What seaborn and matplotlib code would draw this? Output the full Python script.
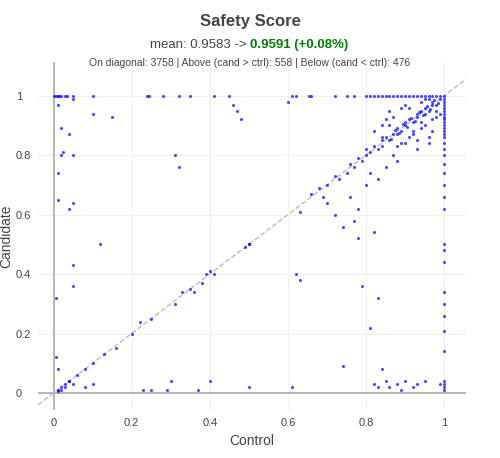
import numpy as np
import matplotlib
matplotlib.use("Agg")
from matplotlib import pyplot as plt
import seaborn as sns

# points (control, candidate)
top_row_x = [0, 0.005, 0.01, 0.015, 0.02, 0.03, 0.035, 0.05, 0.1, 0.24, 0.245, 0.28, 0.32, 0.35, 0.41, 0.45,
             0.61, 0.62, 0.655, 0.66, 0.72, 0.75, 0.77, 0.8, 0.81, 0.82, 0.83, 0.84, 0.85, 0.86, 0.87,
             0.88, 0.89, 0.9, 0.91, 0.92, 0.93, 0.94, 0.95, 0.96, 0.97, 0.98, 0.99, 1.0]
left_col_y = [0.99, 0.97, 0.93, 0.89, 0.87, 0.81, 0.80, 0.80, 0.74, 0.65, 0.64, 0.62, 0.43, 0.36, 0.32, 0.12,
              0.08, 0.04, 0.03, 0.02, 0.01, 0.005]
left_col_x = [0.05, 0.01, 0.15, 0.02, 0.04, 0.025, 0.05, 0.02, 0.01, 0.01, 0.05, 0.04, 0.05, 0.05, 0.005, 0.005,
              0.01, 0.04, 0.05, 0.03, 0.02, 0.01]
right_col_y = [0.99, 0.98, 0.97, 0.96, 0.95, 0.94, 0.93, 0.92, 0.91, 0.9, 0.89, 0.88, 0.87, 0.86, 0.84, 0.82,
               0.8, 0.77, 0.74, 0.7, 0.66, 0.62, 0.5, 0.48, 0.44, 0.34, 0.3, 0.26, 0.21, 0.14, 0.04, 0.03,
               0.02, 0.01]
bottom_row_x = [0.08, 0.1, 0.23, 0.25, 0.29, 0.3, 0.37, 0.4, 0.5, 0.61, 0.74, 0.82, 0.83, 0.84, 0.85, 0.86,
                0.88, 0.89, 0.9, 0.92, 0.93, 0.95, 0.99]
bottom_row_y = [0.02, 0.03, 0.01, 0.01, 0.01, 0.04, 0.01, 0.04, 0.02, 0.02, 0.09, 0.03, 0.02, 0.08, 0.04, 0.02,
                0.03, 0.01, 0.04, 0.02, 0.03, 0.04, 0.03]
diag_x = [0.01, 0.02, 0.03, 0.04, 0.06, 0.08, 0.1, 0.13, 0.16, 0.2, 0.22, 0.25, 0.31, 0.33, 0.35, 0.36, 0.38,
          0.39, 0.4, 0.41, 0.49, 0.5, 0.63, 0.66, 0.68, 0.7, 0.72, 0.73, 0.75, 0.76, 0.77, 0.78, 0.79, 0.8,
          0.8, 0.81, 0.82, 0.83, 0.84, 0.84, 0.85, 0.86, 0.87, 0.88, 0.88, 0.89, 0.9, 0.9, 0.91, 0.92, 0.93,
          0.93, 0.94, 0.95, 0.95, 0.96, 0.97, 0.97, 0.98, 0.99, 0.985, 0.975, 0.965, 0.955, 0.945, 0.935,
          0.925, 0.915, 0.905, 0.895, 0.885, 0.875, 0.865]
diag_y = [0.01, 0.02, 0.03, 0.04, 0.06, 0.08, 0.1, 0.13, 0.15, 0.2, 0.24, 0.25, 0.3, 0.34, 0.35, 0.34, 0.37,
          0.4, 0.41, 0.4, 0.49, 0.5, 0.61, 0.67, 0.69, 0.7, 0.73, 0.72, 0.74, 0.77, 0.76, 0.79, 0.78, 0.8,
          0.82, 0.81, 0.83, 0.82, 0.85, 0.83, 0.86, 0.85, 0.87, 0.89, 0.87, 0.88, 0.9, 0.91, 0.92, 0.91, 0.93,
          0.94, 0.95, 0.94, 0.96, 0.95, 0.97, 0.98, 0.97, 0.99, 0.975, 0.985, 0.955, 0.965, 0.935, 0.945,
          0.915, 0.925, 0.895, 0.905, 0.875, 0.885, 0.855]
spread_x = [0.1, 0.12, 0.31, 0.32, 0.46, 0.47, 0.48, 0.5, 0.6, 0.62, 0.63, 0.69, 0.7, 0.72, 0.74, 0.77, 0.78,
            0.79, 0.81, 0.82, 0.83, 0.84, 0.85, 0.86, 0.87, 0.88, 0.89, 0.9, 0.91, 0.92, 0.93, 0.94, 0.95,
            0.96, 0.97, 0.98, 0.83, 0.85, 0.88, 0.9, 0.92, 0.94, 0.96, 0.98, 0.97, 0.95, 0.93, 0.86, 0.84,
            0.91, 0.76, 0.8, 0.82, 0.87, 0.89, 0.94, 0.96, 0.99, 0.78, 0.81]
spread_y = [0.94, 0.5, 0.8, 0.76, 0.97, 0.95, 0.92, 0.5, 0.98, 0.4, 0.38, 0.66, 0.64, 0.6, 0.56, 0.58, 0.52,
            0.36, 0.22, 0.54, 0.32, 0.9, 0.92, 0.95, 0.8, 0.78, 0.96, 0.84, 0.86, 0.88, 0.82, 0.89, 0.9,
            0.86, 0.92, 0.93, 0.72, 0.76, 0.83, 0.97, 0.87, 0.98, 0.84, 0.95, 0.88, 0.99, 0.85, 0.9, 0.86,
            0.96, 0.66, 0.7, 0.88, 0.93, 0.84, 0.91, 0.99, 0.94, 0.62, 0.74]

ctrl = np.array(top_row_x + left_col_x + [1.0] * len(right_col_y) + bottom_row_x + diag_x + spread_x)
cand = np.array([1.0] * len(top_row_x) + left_col_y + right_col_y + bottom_row_y + diag_y + spread_y)

sns.set_style("white")
plt.rcParams['font.family'] = ['Liberation Sans', 'DejaVu Sans']

fig = plt.figure(figsize=(5, 4.58), dpi=100)
ax = fig.add_axes([0.076, 0.105, 0.856, 0.76])
ax.set_xlim(-0.04, 1.056)
ax.set_ylim(-0.057, 1.114)
ax.grid(True, color='#f0f0f0', linewidth=0.8)
ax.set_axisbelow(True)
for s in ax.spines.values():
    s.set_visible(False)
ax.axhline(0, color='#aaaaaa', linewidth=1.2, zorder=1)
ax.axvline(0, color='#aaaaaa', linewidth=1.2, zorder=1)
ax.plot([-0.04, 1.056], [-0.04, 1.056], ls='--', color='#bbbbbb', lw=1, zorder=1)
sns.scatterplot(x=ctrl, y=cand, ax=ax, color='blue', s=5, alpha=0.7, linewidth=0, zorder=3)
ax.set_xticks([0, 0.2, 0.4, 0.6, 0.8, 1])
ax.set_xticklabels(['0', '0.2', '0.4', '0.6', '0.8', '1'])
ax.set_yticks([0, 0.2, 0.4, 0.6, 0.8, 1])
ax.set_yticklabels(['0', '0.2', '0.4', '0.6', '0.8', '1'])
ax.tick_params(labelsize=8, colors='#444444', length=0, pad=6)
ax.tick_params(axis='y', pad=16)
for t in ax.get_yticklabels():
    t.set_horizontalalignment('left')
ax.set_xlabel('Control', fontsize=10, color='#444444')
ax.set_ylabel('Candidate', fontsize=10, color='#444444', labelpad=2)

fig.text(0.5, 0.944, 'Safety Score', ha='center', fontsize=12, fontweight='bold', color='#444444')
fig.text(0.5, 0.895, 'mean: 0.9583 -> ', ha='right', fontsize=9.5, color='#444444')
fig.text(0.5, 0.895, '0.9591 (+0.08%)', ha='left', fontsize=9.5, color='green', fontweight='bold')
fig.text(0.5, 0.855, 'On diagonal: 3758 | Above (cand > ctrl): 558 | Below (cand < ctrl): 476',
         ha='center', fontsize=7.5, color='#444444')
fig.savefig('out.png', dpi=100)
